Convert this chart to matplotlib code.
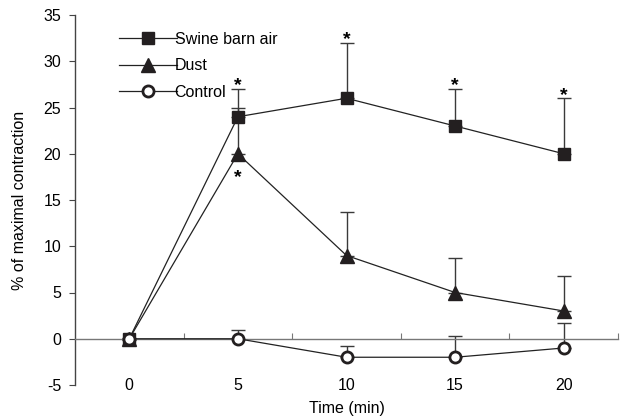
import matplotlib
matplotlib.use("Agg")
import matplotlib.pyplot as plt

# data
time = [0, 5, 10, 15, 20]
swine = [0, 24, 26, 23, 20]
swine_err = [0, 3, 6, 4, 6]
dust = [0, 20, 9, 5, 3]
dust_err = [0, 5, 4.7, 3.7, 3.8]
control = [0, 0, -2, -2, -1]
control_err = [0, 1.0, 1.25, 2.3, 2.7]

x_ticks = [0, 5, 10, 15, 20]
x_minor = [2.5, 7.5, 12.5, 17.5, 22.5]
y_ticks = [-5, 0, 5, 10, 15, 20, 25, 30, 35]

# significance marks: above swine error cap, below dust point
star_swine = [5, 10, 15, 20]
star_dust = [5]

plt.rcParams["font.family"] = ["Liberation Sans", "DejaVu Sans"]
plt.rcParams["font.size"] = 11.5
plt.rcParams["axes.unicode_minus"] = False

fig = plt.figure(figsize=(6.23, 4.18), dpi=100)
ax = fig.add_axes([75 / 623, 1 - 385 / 418, 543 / 623, 370 / 418])

ebkw = dict(ecolor="#3a3a3a", elinewidth=1.0, capsize=5, capthick=1.0)
zeros = [0] * len(time)
ax.errorbar(time, swine, yerr=[zeros, swine_err], fmt="none", zorder=2, **ebkw)
ax.errorbar(time, dust, yerr=[zeros, dust_err], fmt="none", zorder=2, **ebkw)
ax.errorbar(time, control, yerr=[zeros, control_err], fmt="none", zorder=2, **ebkw)

ax.plot(time, swine, color="#222", lw=0.9, marker="s", ms=9, mfc="#231f20",
        mec="#231f20", label="Swine barn air", zorder=4)
ax.plot(time, dust, color="#222", lw=0.9, marker="^", ms=10, mfc="#231f20",
        mec="#231f20", label="Dust", zorder=4)
ax.plot(time, control, color="#222", lw=0.9, marker="o", ms=8, mfc="white",
        mec="#231f20", mew=2, label="Control", zorder=5)

for i, t in enumerate(time):
    if t in star_swine:
        ax.text(t, swine[i] + swine_err[i] - 0.15, "*", ha="center", va="baseline",
                fontsize=14, fontweight="bold")
    if t in star_dust:
        ax.text(t, dust[i] - 3.1, "*", ha="center", va="baseline",
                fontsize=14, fontweight="bold")

ax.set_xlim(-2.5, 22.5)
ax.set_ylim(-5, 35)

for s in ["top", "right"]:
    ax.spines[s].set_visible(False)
ax.spines["bottom"].set_position(("data", 0))
ax.spines["left"].set_color("#444")
ax.spines["bottom"].set_color("#777")
for s in ["left", "bottom"]:
    ax.spines[s].set_linewidth(1.0)

ax.set_yticks(y_ticks)
ax.tick_params(axis="y", direction="out", length=4, color="#444", pad=6)
ax.set_xticks(x_minor)
ax.set_xticklabels([])
ax.tick_params(axis="x", direction="in", length=4, color="#777")
for t in x_ticks:
    ax.text(t, -5, str(t), ha="center", va="center", clip_on=False)

ax.set_xlabel("Time (min)")
ax.xaxis.set_label_coords(0.5, -0.043)
ax.set_ylabel("% of maximal contraction")
ax.yaxis.set_label_coords(-0.088, 0.5)

ax.legend(loc="upper left", bbox_to_anchor=(0.07, 0.972), frameon=False,
          handlelength=3.6, handletextpad=-0.15, labelspacing=0.72,
          borderaxespad=0)

fig.savefig("out.png", dpi=100)
